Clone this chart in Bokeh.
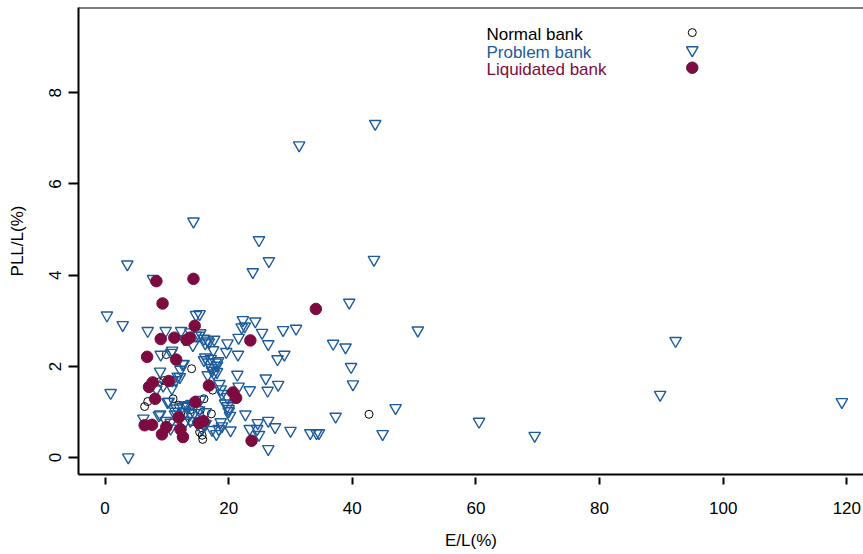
from bokeh.plotting import figure
from bokeh.models import Range1d, FixedTicker, Span
from bokeh.embed import file_html
from bokeh.resources import INLINE
from bokeh.core.properties import value

# Equity / loans (E/L, %) and provisions for loan losses / loans (PLL/L, %)
normal_el = [6.4, 6.9, 8.7, 9.5, 9.9, 11.0, 11.9, 13.0, 14.0, 14.1, 15.3, 15.7,
             15.8, 16.0, 17.2, 15.4, 17.4, 42.7, 13.8, 12.3]
normal_pll = [1.12, 1.23, 1.66, 1.69, 2.26, 1.29, 1.15, 1.15, 1.95, 0.79, 0.56, 0.49,
              0.40, 1.29, 0.96, 1.04, 1.48, 0.95, 1.05, 1.00]

problem_el = [0.3, 0.9, 2.85, 3.6, 3.75, 14.3, 24.9, 26.5, 23.9, 31.4, 43.7, 43.5,
              39.5, 50.6, 36.9, 38.9, 39.8, 40.1, 37.3, 47.0, 44.9, 60.5, 69.5, 89.8,
              92.3, 119.2,
              30.9, 28.8, 29.0, 27.9, 26.4, 25.4, 24.3, 22.3, 22.1, 22.6, 21.6, 21.5,
              19.8, 19.6, 26.0, 26.3, 28.0, 23.4, 22.7, 26.4, 27.5, 30.0, 33.2, 34.2,
              34.6, 24.7, 23.4, 24.9, 26.4, 21.4, 21.6, 24.6, 20.3,
              7.75, 14.7, 15.3, 6.9, 9.8, 12.3, 13.8, 15.4, 14.7, 16.6, 16.2, 17.65,
              14.2, 16.8, 9.0, 10.7, 10.85, 17.5, 16.0, 16.7, 17.2, 18.3, 18.1, 12.5,
              12.2, 8.9, 16.6, 17.6, 17.3, 11.75, 11.4, 12.1, 18.5, 8.3, 9.4, 10.8,
              18.7, 18.9, 19.75, 19.4, 19.8, 20.0, 15.4, 10.1, 11.6, 12.5, 13.4, 14.4,
              15.2, 16.3, 20.0, 20.2, 6.2, 8.9, 9.8, 10.6, 12.0, 12.9, 13.8, 15.0,
              15.6, 16.1, 17.3, 18.4, 18.9, 18.7, 18.0, 16.25, 11.3, 13.0, 14.0, 12.8,
              15.2, 16.0, 16.2, 17.1, 17.9, 12.7, 18.1, 10.9, 10.3, 11.4, 13.0, 13.8,
              10.6, 8.7]
problem_pll = [3.12, 1.42, 2.91, 4.24, 0.01, 5.18, 4.77, 4.31, 4.07, 6.85, 7.32, 4.34,
               3.40, 2.79, 2.50, 2.42, 1.99, 1.61, 0.90, 1.09, 0.52, 0.79, 0.48, 1.38,
               2.56, 1.22,
               2.83, 2.80, 2.26, 2.16, 2.49, 2.74, 2.99, 3.02, 2.86, 2.88, 2.63, 2.26,
               2.51, 2.32, 1.74, 1.47, 1.60, 1.48, 0.95, 0.81, 0.67, 0.59, 0.54, 0.54,
               0.54, 0.76, 0.63, 0.50, 0.19, 1.82, 1.56, 0.63, 0.60,
               3.92, 3.13, 3.15, 2.78, 2.78, 2.78, 2.75, 2.73, 2.68, 2.57, 2.51, 2.59,
               2.47, 2.53, 2.26, 2.30, 2.35, 2.36, 2.14, 2.09, 1.97, 2.12, 2.02, 2.05,
               1.93, 1.89, 1.81, 1.85, 1.91, 1.78, 1.70, 1.77, 1.62, 1.50, 1.58, 1.52,
               1.50, 1.40, 1.33, 1.19, 1.13, 1.07, 1.27, 1.22, 1.08, 1.12, 1.13, 0.98,
               1.04, 1.00, 1.02, 0.92, 0.86, 0.95, 0.81, 0.77, 0.84, 0.77, 0.81, 0.73,
               0.65, 0.71, 0.61, 0.63, 0.69, 0.78, 0.52, 0.74, 0.95, 1.00, 1.18, 2.60,
               2.68, 2.61, 2.20, 2.17, 2.09, 2.06, 1.88, 1.69, 1.23, 1.01, 1.15, 0.97,
               0.64, 0.93]

liquidated_el = [8.3, 14.3, 9.3, 14.5, 9.0, 11.2, 13.2, 13.7, 6.8, 11.5, 7.1, 7.7,
                 10.3, 8.1, 14.6, 16.8, 20.7, 21.2, 23.5, 34.1, 23.7, 6.4, 7.6, 9.2,
                 9.9, 11.9, 12.2, 12.6, 15.2, 15.9]
liquidated_pll = [3.87, 3.92, 3.38, 2.89, 2.60, 2.63, 2.58, 2.63, 2.21, 2.15, 1.55, 1.65,
                  1.68, 1.29, 1.22, 1.58, 1.43, 1.31, 2.57, 3.26, 0.37, 0.71, 0.72, 0.51,
                  0.67, 0.88, 0.62, 0.45, 0.76, 0.80]

x_ticks = [0, 20, 40, 60, 80, 100, 120]
y_ticks = [0, 2, 4, 6, 8]
legend_labels = ["Normal bank", "Problem bank", "Liquidated bank"]

# styling
FONT = "Liberation Sans"
BLUE = "#1d5b9c"
MAROON = "#7c0c40"
X_START, X_END = -4.3, 122.7
Y_START, Y_END = -0.37, 9.87
LEGEND_TEXT_X = 61.7
LEGEND_KEY_X = 95.0
LEGEND_ROWS = [9.27, 8.885, 8.50]

p = figure(width=863, height=554, output_backend="svg", toolbar_location=None,
           x_range=Range1d(X_START, X_END), y_range=Range1d(Y_START, Y_END),
           min_border_left=78, min_border_right=0, min_border_top=7,
           min_border_bottom=80)
p.outline_line_color = None
p.grid.visible = False
p.background_fill_color = "white"
p.border_fill_color = "white"

# frame: left and bottom come from the axes, the top is a span
p.add_layout(Span(location=Y_END, dimension="width", line_color="black", line_width=2))

for ax in (p.xaxis[0], p.yaxis[0]):
    ax.axis_line_width = 2
    ax.axis_line_color = "black"
    ax.major_tick_line_width = 2
    ax.major_tick_line_color = "black"
    ax.minor_tick_line_color = None
    ax.major_label_text_font = FONT
    ax.major_label_text_font_size = "17px"
    ax.major_label_text_color = "black"
    ax.axis_label_text_font = FONT
    ax.axis_label_text_font_size = "17px"
    ax.axis_label_text_font_style = "normal"
    ax.axis_label_text_color = "black"

p.xaxis.ticker = FixedTicker(ticks=x_ticks)
p.xaxis.major_label_overrides = {t: str(t) for t in x_ticks}
p.xaxis.major_tick_in = -3
p.xaxis.major_tick_out = 10
p.xaxis.major_label_standoff = 17
p.xaxis.axis_label = "E/L(%)"
p.xaxis.axis_label_standoff = 14

p.yaxis.ticker = FixedTicker(ticks=y_ticks)
p.yaxis.major_label_overrides = {t: str(t) for t in y_ticks}
p.yaxis.major_tick_in = 0
p.yaxis.major_tick_out = 10
p.yaxis.major_label_orientation = "vertical"
p.yaxis.major_label_standoff = 7
p.yaxis.axis_label = "PLL/L(%)"
p.yaxis.axis_label_standoff = 20

# points
p.scatter(normal_el, normal_pll, marker="circle", size=8, fill_color=None,
          line_color="black", line_width=1)
p.scatter(problem_el, problem_pll, marker="inverted_triangle", size=11.5, fill_color=None,
          line_color=BLUE, line_width=1.4)
p.scatter(liquidated_el, liquidated_pll, marker="circle", size=11.5, fill_color=MAROON,
          line_color=MAROON, line_width=1)

# legend: label text on the left, symbol on the right
p.text(x=[LEGEND_TEXT_X] * 3, y=LEGEND_ROWS, text=legend_labels,
       text_color=["black", BLUE, MAROON], text_font=value(FONT),
       text_font_size=value("17px"), text_baseline="middle", text_align="left")
p.scatter([LEGEND_KEY_X], [LEGEND_ROWS[0] + 0.05], marker="circle", size=8,
          fill_color=None, line_color="black", line_width=1)
p.scatter([LEGEND_KEY_X], [LEGEND_ROWS[1] + 0.05], marker="inverted_triangle", size=11.5,
          fill_color=None, line_color=BLUE, line_width=1.4)
p.scatter([LEGEND_KEY_X], [LEGEND_ROWS[2] + 0.05], marker="circle", size=11.5,
          fill_color=MAROON, line_color=MAROON, line_width=1)

open("out.html", "w").write(file_html(p, INLINE))
